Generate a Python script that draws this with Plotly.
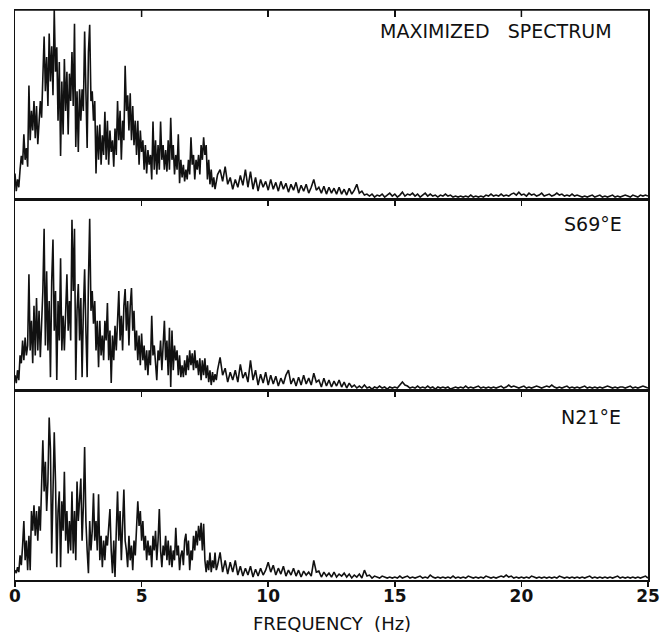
import numpy as np
import plotly.graph_objects as go

# ---------------- data (amplitude, arbitrary units) ----------------
LOW_STEP = 0.05      # Hz, 0.00 .. 7.95
HIGH_START = 8.0     # Hz
HIGH_STEP = 0.1      # Hz, 8.0 .. 25.0

max_low = [
    26, 8, 20, 12, 30, 44, 35, 66, 40, 52, 33, 116, 60, 90, 70, 100, 62, 95, 56, 85,
    100, 83, 130, 166, 110, 145, 95, 169, 120, 156, 106, 193, 130, 155, 80, 140, 44, 120, 66, 143,
    90, 130, 66, 128, 100, 150, 95, 179, 53, 110, 48, 112, 80, 112, 90, 171, 110, 52, 150, 178,
    100, 110, 80, 100, 26, 75, 40, 76, 35, 65, 45, 89, 40, 80, 35, 70, 48, 60, 33, 72,
    45, 100, 60, 90, 40, 80, 60, 136, 90, 106, 70, 108, 60, 95, 55, 80, 45, 80, 35, 70,
    48, 60, 30, 55, 26, 50, 35, 45, 20, 79, 30, 60, 25, 55, 30, 79, 40, 55, 30, 50,
    28, 60, 30, 83, 40, 55, 25, 45, 30, 66, 16, 40, 22, 35, 18, 30, 20, 40, 25, 63,
    35, 45, 20, 40, 30, 45, 25, 55, 40, 63, 45, 55, 20, 40, 15, 30, 12, 22, 10, 20,
]
max_high = [
    25, 30, 18, 33, 15, 22, 10, 20, 12, 24,
    14, 30, 12, 28, 10, 22, 8, 20, 12, 18,
    9, 20, 10, 17, 8, 18, 10, 16, 7, 15,
    9, 17, 6, 14, 8, 15, 6, 12, 20, 9,
    12, 6, 13, 5, 12, 6, 11, 5, 12, 5,
    10, 4, 11, 5, 9, 15, 6, 8, 4, 5,
    3, 5, 2, 4, 3, 5, 2, 4, 6, 3,
    5, 2, 4, 7, 3, 5, 4, 6, 3, 5,
    2, 4, 6, 3, 5, 3, 4, 2, 4, 3,
    5, 3, 4, 2, 3, 2, 3, 2, 3, 2,
    4, 2, 3, 2, 3, 2, 4, 3, 5, 3,
    4, 3, 5, 3, 4, 3, 5, 6, 4, 7,
    4, 5, 3, 6, 4, 5, 3, 4, 6, 3,
    4, 5, 3, 4, 6, 4, 5, 3, 4, 3,
    5, 3, 4, 3, 2, 3, 2, 3, 4, 2,
    3, 4, 2, 3, 2, 3, 4, 2, 3, 2,
    3, 4, 3, 2, 4, 3, 2, 4, 3, 4,
    3,
]

s69e_low = [
    15, 7, 20, 10, 35, 27, 50, 30, 53, 35, 45, 117, 40, 70, 27, 85, 35, 93, 40, 80,
    33, 70, 100, 163, 45, 120, 40, 90, 13, 110, 152, 60, 100, 10, 90, 50, 133, 40, 75, 40,
    80, 117, 60, 90, 50, 172, 100, 163, 10, 80, 107, 50, 93, 13, 80, 122, 60, 13, 110, 173,
    80, 100, 67, 90, 40, 70, 23, 70, 35, 55, 30, 70, 50, 88, 30, 60, 7, 55, 30, 65,
    40, 80, 100, 50, 75, 40, 85, 102, 60, 90, 45, 85, 103, 60, 80, 40, 60, 30, 55, 25,
    57, 30, 45, 20, 40, 15, 40, 25, 75, 35, 45, 27, 10, 40, 30, 50, 20, 45, 70, 30,
    50, 15, 63, 3, 60, 20, 45, 30, 40, 15, 35, 13, 25, 13, 30, 15, 35, 20, 40, 25,
    37, 20, 40, 22, 30, 15, 32, 10, 30, 15, 32, 12, 25, 8, 20, 5, 18, 8, 16, 10,
]
s69e_high = [
    20, 33, 15, 22, 8, 18, 10, 20, 8, 26,
    12, 18, 8, 30, 10, 20, 5, 16, 7, 18,
    5, 15, 6, 14, 4, 12, 6, 15, 20, 6,
    12, 4, 13, 5, 15, 6, 12, 5, 17, 8,
    10, 3, 12, 4, 10, 3, 9, 4, 10, 3,
    8, 2, 7, 3, 5, 2, 4, 2, 5, 2,
    3, 1, 3, 2, 4, 2, 3, 1, 3, 2,
    3, 2, 5, 8, 5, 4, 2, 3, 2, 4,
    2, 3, 2, 4, 2, 3, 1, 3, 2, 3,
    2, 3, 1, 2, 3, 2, 3, 2, 4, 2,
    3, 2, 3, 4, 2, 3, 2, 3, 2, 3,
    2, 3, 4, 2, 3, 5, 3, 4, 3, 2,
    3, 4, 2, 3, 2, 3, 4, 3, 2, 3,
    4, 3, 5, 3, 2, 3, 2, 3, 4, 2,
    3, 2, 3, 2, 3, 4, 2, 3, 2, 3,
    2, 3, 2, 3, 4, 3, 2, 3, 2, 3,
    3, 2, 3, 4, 2, 3, 2, 3, 4, 3,
    2,
]

n21e_low = [
    10, 7, 13, 8, 25, 15, 35, 60, 20, 40, 10, 45, 10, 70, 50, 76, 45, 70, 40, 75,
    50, 100, 142, 90, 120, 70, 100, 165, 133, 27, 100, 150, 100, 13, 70, 90, 13, 80, 50, 110,
    40, 70, 27, 60, 30, 90, 27, 70, 20, 100, 60, 80, 103, 40, 75, 135, 60, 30, 7, 60,
    30, 50, 88, 40, 60, 30, 87, 20, 45, 13, 40, 20, 45, 35, 60, 72, 30, 7, 40, 3,
    50, 90, 40, 70, 20, 50, 92, 40, 30, 13, 45, 20, 35, 10, 40, 25, 50, 80, 55, 70,
    40, 60, 30, 45, 20, 40, 25, 35, 13, 45, 30, 50, 20, 40, 72, 30, 13, 35, 25, 45,
    20, 40, 15, 35, 13, 30, 20, 53, 25, 35, 10, 25, 30, 15, 40, 47, 25, 40, 10, 30,
    20, 45, 30, 50, 35, 55, 40, 58, 30, 57, 20, 8, 20, 10, 28, 8, 20, 12, 28, 10,
]
n21e_high = [
    15, 28, 8, 20, 6, 18, 8, 20, 5, 14,
    4, 12, 5, 14, 3, 11, 4, 12, 5, 10,
    18, 8, 15, 5, 12, 6, 14, 4, 10, 5,
    12, 4, 10, 3, 9, 5, 8, 4, 20, 8,
    9, 3, 8, 4, 7, 3, 8, 3, 6, 4,
    7, 3, 6, 2, 5, 3, 6, 2, 10, 4,
    5, 2, 4, 3, 2, 4, 3, 2, 3, 2,
    3, 2, 4, 2, 3, 4, 2, 3, 2, 3,
    4, 2, 3, 2, 5, 3, 2, 3, 2, 3,
    2, 3, 2, 4, 2, 3, 2, 3, 2, 4,
    3, 2, 3, 2, 3, 2, 4, 3, 2, 3,
    2, 3, 4, 3, 5, 3, 4, 2, 3, 2,
    3, 2, 3, 2, 4, 3, 2, 3, 2, 3,
    2, 3, 2, 3, 2, 4, 3, 2, 3, 2,
    3, 2, 3, 2, 3, 2, 3, 4, 2, 3,
    2, 3, 2, 3, 2, 3, 2, 3, 4, 2,
    3, 2, 3, 2, 3, 2, 3, 2, 3, 4,
    2,
]

panel_labels = ["MAXIMIZED\u00a0\u00a0\u00a0SPECTRUM", "S69°E", "N21°E"]
tick_values = [0, 5, 10, 15, 20, 25]
tick_labels = ["0", "5", "10", "15", "20", "25"]
x_title = "FREQUENCY\u00a0\u00a0(Hz)"

# ---------------- figure ----------------
def spectrum(low, high):
    f_low = np.round(np.arange(len(low)) * LOW_STEP, 3)
    f_high = np.round(HIGH_START + np.arange(len(high)) * HIGH_STEP, 3)
    return np.concatenate([f_low, f_high]), np.array(low + high, dtype=float)

series = [(max_low, max_high), (s69e_low, s69e_high), (n21e_low, n21e_high)]
for lo, hi in series:
    assert len(lo) == 160 and len(hi) == 171, (len(lo), len(hi))

W, H = 660, 644
ML, MR, MT, MB = 15, 12, 10, 64
plot_h = H - MT - MB
plot_w = W - ML - MR
ph = [189, 191, 190]  # panel heights, top to bottom
b3 = ph[2] / plot_h
b2 = (ph[2] + ph[1]) / plot_h
domains = [[b2, 1.0], [b3, b2], [0.0, b3]]
TICK_LEN = 7

fig = go.Figure()
INK = "#111111"
for i, (lo, hi) in enumerate(series):
    fx, fy = spectrum(lo, hi)
    sfx = "" if i == 0 else str(i + 1)
    fig.add_trace(go.Scatter(
        x=fx, y=fy, mode="lines",
        line=dict(color=INK, width=1.6),
        xaxis="x" + sfx, yaxis="y" + sfx,
        hoverinfo="skip", showlegend=False,
    ))

# every panel: axis on top with ticks pointing down into the panel, line mirrored below
axis_common = dict(
    range=[0, 25], tickvals=tick_values, ticktext=tick_labels,
    side="top", showticklabels=False,
    showline=True, linecolor=INK, linewidth=1.5, mirror=True,
    ticks="inside", ticklen=TICK_LEN, tickwidth=1.5, tickcolor=INK,
    showgrid=False, zeroline=False, automargin=False,
)
yaxis_common = dict(
    range=[0, 193], showline=True, linecolor=INK, linewidth=1.5, mirror=True,
    ticks="", showticklabels=False, showgrid=False, zeroline=False, automargin=False,
)

layout = dict(
    width=W, height=H,
    margin=dict(l=ML, r=MR, t=MT, b=MB, autoexpand=False),
    paper_bgcolor="white", plot_bgcolor="white",
    showlegend=False,
)
for i in range(3):
    sfx = "" if i == 0 else str(i + 1)
    xa = dict(axis_common)
    xa["anchor"] = "y" + sfx
    xa["domain"] = [0, 1]
    layout["xaxis" + sfx] = xa
    ya = dict(yaxis_common)
    ya["anchor"] = "x" + sfx
    ya["domain"] = domains[i]
    layout["yaxis" + sfx] = ya

# bottom frequency scale: a flat helper subplot at the bottom edge
layout["xaxis4"] = dict(
    range=[0, 25], tickvals=tick_values, ticktext=tick_labels, side="bottom",
    anchor="y4", domain=[0, 1], showline=False,
    ticks="outside", ticklen=6, tickwidth=1.5, tickcolor=INK,
    ticklabelstandoff=-5, showticklabels=True,
    tickfont=dict(family="DejaVu Sans", size=17, color=INK, weight="bold"),
    showgrid=False, zeroline=False, automargin=False,
)
layout["yaxis4"] = dict(
    domain=[0, 0.001], anchor="x4", range=[0, 1],
    showline=False, ticks="", showticklabels=False, showgrid=False,
    zeroline=False, automargin=False,
)
fig.add_trace(go.Scatter(x=[None], y=[None], xaxis="x4", yaxis="y4",
                         mode="lines", showlegend=False, hoverinfo="skip"))

fig.update_layout(**layout)

# top frame of the top panel and its inward ticks, tied to the panel's own axes
fig.add_shape(type="line", xref="x domain", yref="y domain", x0=0, x1=1, y0=1, y1=1,
              line=dict(color=INK, width=1.5), layer="above")
for v in tick_values[1:-1]:
    fig.add_shape(type="line", xref="x", yref="y domain", x0=v, x1=v,
                  y0=1, y1=1 - TICK_LEN / ph[0],
                  line=dict(color=INK, width=1.5), layer="above")

label_font = dict(family="DejaVu Sans", size=19, color=INK)
label_y_px = [30.5, 224.5, 417]
label_right_px = [614, 624, 623]
for text, ypx, xpx in zip(panel_labels, label_y_px, label_right_px):
    fig.add_annotation(
        text=text, xref="paper", yref="paper",
        x=(xpx - ML) / plot_w, y=1 - (ypx - MT) / plot_h,
        xanchor="right", yanchor="middle", showarrow=False, font=label_font,
    )

fig.add_annotation(
    text=x_title, xref="paper", yref="paper",
    x=0.5, y=-(623 - (H - MB)) / plot_h,
    xanchor="center", yanchor="middle", showarrow=False,
    font=dict(family="DejaVu Sans", size=18, color=INK),
)

# remove the page's default body margin so the figure sits at the window origin
fig.write_html(
    "out.html",
    config={"displayModeBar": False, "staticPlot": True},
    post_script="document.body.style.margin='0';document.body.style.overflow='hidden';",
)
